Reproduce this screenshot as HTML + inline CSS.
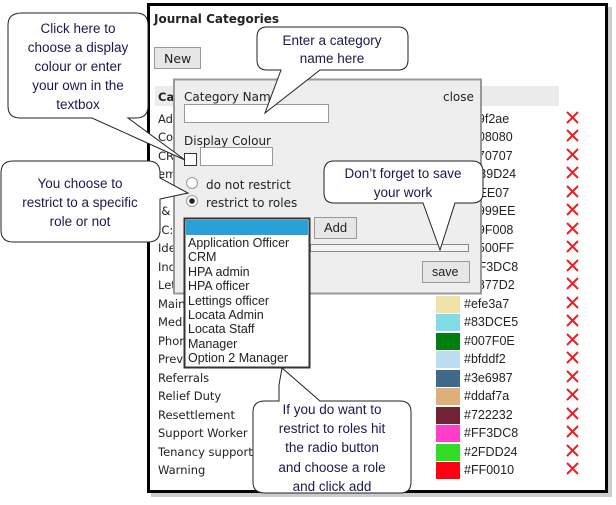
<!DOCTYPE html>
<html><head><meta charset="utf-8"><style>
html,body{margin:0;padding:0;background:#fff;}
svg{display:block;}
.ui{font-family:"DejaVu Sans","Liberation Sans",sans-serif;font-size:11.5px;fill:#222;}
.ar{font-family:"Liberation Sans",sans-serif;font-size:12.5px;fill:#222;}
.co{font-family:"Liberation Sans",sans-serif;font-size:13.5px;fill:#1a1a4a;text-anchor:middle;}
</style></head><body>
<svg width="616" height="505" viewBox="0 0 616 505" xmlns="http://www.w3.org/2000/svg">
<!-- shadow + frame -->
<rect x="151" y="7" width="461" height="490" fill="#999" opacity="0.5"/>
<rect x="148.5" y="4.5" width="458" height="487" fill="#fff" stroke="#000" stroke-width="3"/>
<text x="154" y="23" class="ui" font-weight="bold" style="font-size:12px">Journal Categories</text>
<rect x="154.5" y="47.5" width="46" height="21" fill="#e6e6e6" stroke="#999"/>
<text x="164" y="63" class="ui" style="font-size:12.5px">New</text>
<rect x="155" y="86" width="404" height="20" fill="#ececec"/>
<text x="158" y="101" class="ui" font-weight="bold">Ca</text>
<g class="ui">
<text x="158" y="123">Ad</text><text x="158" y="141">Co</text><text x="158" y="160">CR</text><text x="158" y="178">em</text>
<text x="158" y="197">Ac</text><text x="158" y="215">I&amp;</text><text x="158" y="234">IC:</text><text x="158" y="252">Ide</text>
<text x="158" y="271">Ind</text><text x="158" y="289">Let</text><text x="158" y="308">Main</text><text x="158" y="326">Medi</text>
<text x="158" y="345">Phon</text><text x="158" y="363">Prev</text><text x="158" y="382">Referrals</text><text x="158" y="400">Relief Duty</text>
<text x="158" y="419">Resettlement</text><text x="158" y="437">Support Worker</text><text x="158" y="456">Tenancy support</text><text x="158" y="474">Warning</text>
</g>
<g class="ar">
<text x="464" y="123">#a9f2ae</text><text x="464" y="141">#008080</text><text x="464" y="160">#070707</text><text x="464" y="178">#B39D24</text>
<text x="464" y="197">#FEE07</text><text x="464" y="215">#9999EE</text><text x="464" y="234">#09F008</text><text x="464" y="252">#9500FF</text>
<text x="464" y="271">#FF3DC8</text><text x="464" y="289">#5877D2</text><text x="464" y="308">#efe3a7</text><text x="464" y="326">#83DCE5</text>
<text x="464" y="345">#007F0E</text><text x="464" y="363">#bfddf2</text><text x="464" y="382">#3e6987</text><text x="464" y="400">#ddaf7a</text>
<text x="464" y="419">#722232</text><text x="464" y="437">#FF3DC8</text><text x="464" y="456">#2FDD24</text><text x="464" y="474">#FF0010</text>
</g>
<g>
<rect x="436" y="296" width="24" height="17" fill="#efe3a7"/><rect x="436" y="314" width="24" height="17" fill="#83DCE5"/>
<rect x="436" y="333" width="24" height="17" fill="#007F0E"/><rect x="436" y="351" width="24" height="17" fill="#bfddf2"/>
<rect x="436" y="370" width="24" height="17" fill="#3e6987"/><rect x="436" y="388" width="24" height="17" fill="#ddaf7a"/>
<rect x="436" y="407" width="24" height="17" fill="#722232"/><rect x="436" y="425" width="24" height="17" fill="#FF3DC8"/>
<rect x="436" y="444" width="24" height="17" fill="#2FDD24"/><rect x="436" y="462" width="24" height="17" fill="#FF0010"/>
</g>
<g stroke="#e8202a" stroke-width="2">
<path d="M567 112l11 11M578 112l-11 11"/><path d="M567 130l11 11M578 130l-11 11"/><path d="M567 149l11 11M578 149l-11 11"/><path d="M567 167l11 11M578 167l-11 11"/>
<path d="M567 186l11 11M578 186l-11 11"/><path d="M567 204l11 11M578 204l-11 11"/><path d="M567 223l11 11M578 223l-11 11"/><path d="M567 241l11 11M578 241l-11 11"/>
<path d="M567 260l11 11M578 260l-11 11"/><path d="M567 278l11 11M578 278l-11 11"/><path d="M567 297l11 11M578 297l-11 11"/><path d="M567 315l11 11M578 315l-11 11"/>
<path d="M567 334l11 11M578 334l-11 11"/><path d="M567 352l11 11M578 352l-11 11"/><path d="M567 371l11 11M578 371l-11 11"/><path d="M567 389l11 11M578 389l-11 11"/>
<path d="M567 408l11 11M578 408l-11 11"/><path d="M567 426l11 11M578 426l-11 11"/><path d="M567 445l11 11M578 445l-11 11"/><path d="M567 463l11 11M578 463l-11 11"/>
</g>
<!-- dialog -->
<rect x="174" y="79.5" width="307" height="214" fill="#eeeeee" stroke="#999" stroke-width="2"/>
<text x="184" y="101" class="ui" style="font-size:12px">Category Name</text>
<text x="443" y="101" class="ui" style="font-size:12px">close</text>
<rect x="184.5" y="104.5" width="144" height="18" fill="#fff" stroke="#999"/>
<text x="184" y="145" class="ui" style="font-size:12px">Display Colour</text>
<rect x="184.5" y="153.5" width="12" height="12" fill="#fff" stroke="#333"/>
<rect x="200.5" y="147.5" width="72" height="18" fill="#fff" stroke="#999"/>
<circle cx="192" cy="183" r="5.5" fill="#fff" stroke="#999"/>
<text x="206" y="189" class="ui" style="font-size:12px">do not restrict</text>
<circle cx="192" cy="201" r="5.5" fill="#fff" stroke="#999"/><circle cx="192" cy="201" r="2.8" fill="#222"/>
<text x="206" y="207" class="ui" style="font-size:12px">restrict to roles</text>
<rect x="314.5" y="217.5" width="42" height="21" fill="#e6e6e6" stroke="#999"/>
<text x="324" y="232" class="ar" style="font-size:13px">Add</text>
<rect x="310.5" y="244.5" width="158" height="7" fill="#f4f4f4" stroke="#888"/>
<rect x="422.5" y="261.5" width="47" height="21" fill="#e6e6e6" stroke="#999"/>
<text x="432" y="276" class="ar" style="font-size:12.5px">save</text>
<!-- select -->
<rect x="184.5" y="218.5" width="125" height="149" fill="#fff" stroke="#333" stroke-width="2"/>
<rect x="186" y="220" width="122" height="15" fill="#2aa0da"/>
<g class="ar" style="font-size:12.5px">
<text x="188" y="247">Application Officer</text><text x="188" y="261">CRM</text><text x="188" y="276">HPA admin</text><text x="188" y="290">HPA officer</text>
<text x="188" y="305">Lettings officer</text><text x="188" y="319">Locata Admin</text><text x="188" y="333">Locata Staff</text><text x="188" y="348">Manager</text><text x="188" y="362">Option 2 Manager</text>
</g>
<!-- callouts -->
<g fill="#fff" stroke="#222" stroke-width="1">
<path d="M22 13H136Q148 13 148 25V106Q148 118 136 118H128L185 160L92 118H20Q8 118 8 106V25Q8 13 22 13Z"/>
<path d="M13 161H148Q160 161 160 173V178L188 193L160 199V230Q160 242 148 242H13Q1 242 1 230V173Q1 161 13 161Z"/>
<path d="M267 27H398Q408 27 408 37V60Q408 70 398 70H320L265 113L281 70H267Q257 70 257 60V37Q257 27 267 27Z"/>
<path d="M334 161H472Q483 161 483 172V193Q483 203 472 203H455L440 250L423 203H334Q324 203 324 193V172Q324 161 334 161Z"/>
<path d="M265 401H279V385L282 368L320 401H400Q411 401 411 412V482Q411 493 400 493H265Q253 493 253 482V412Q253 401 265 401Z"/>
</g>
<g class="co">
<text x="78" y="33">Click here to</text><text x="78" y="52">choose a display</text><text x="78" y="71">colour or enter</text><text x="78" y="90">your own in the</text><text x="78" y="109">textbox</text>
<text x="80" y="188">You choose to</text><text x="80" y="207">restrict to a specific</text><text x="80" y="226">role or not</text>
<text x="332" y="45">Enter a category</text><text x="332" y="63">name here</text>
<text x="403" y="178" text-anchor="middle">Don’t forget to save</text><text x="403" y="197">your work</text>
<text x="332" y="414">If you do want to</text><text x="332" y="433">restrict to roles hit</text><text x="332" y="452">the radio button</text><text x="332" y="472">and choose a role</text><text x="332" y="491">and click add</text>
</g>
</svg>
</body></html>
